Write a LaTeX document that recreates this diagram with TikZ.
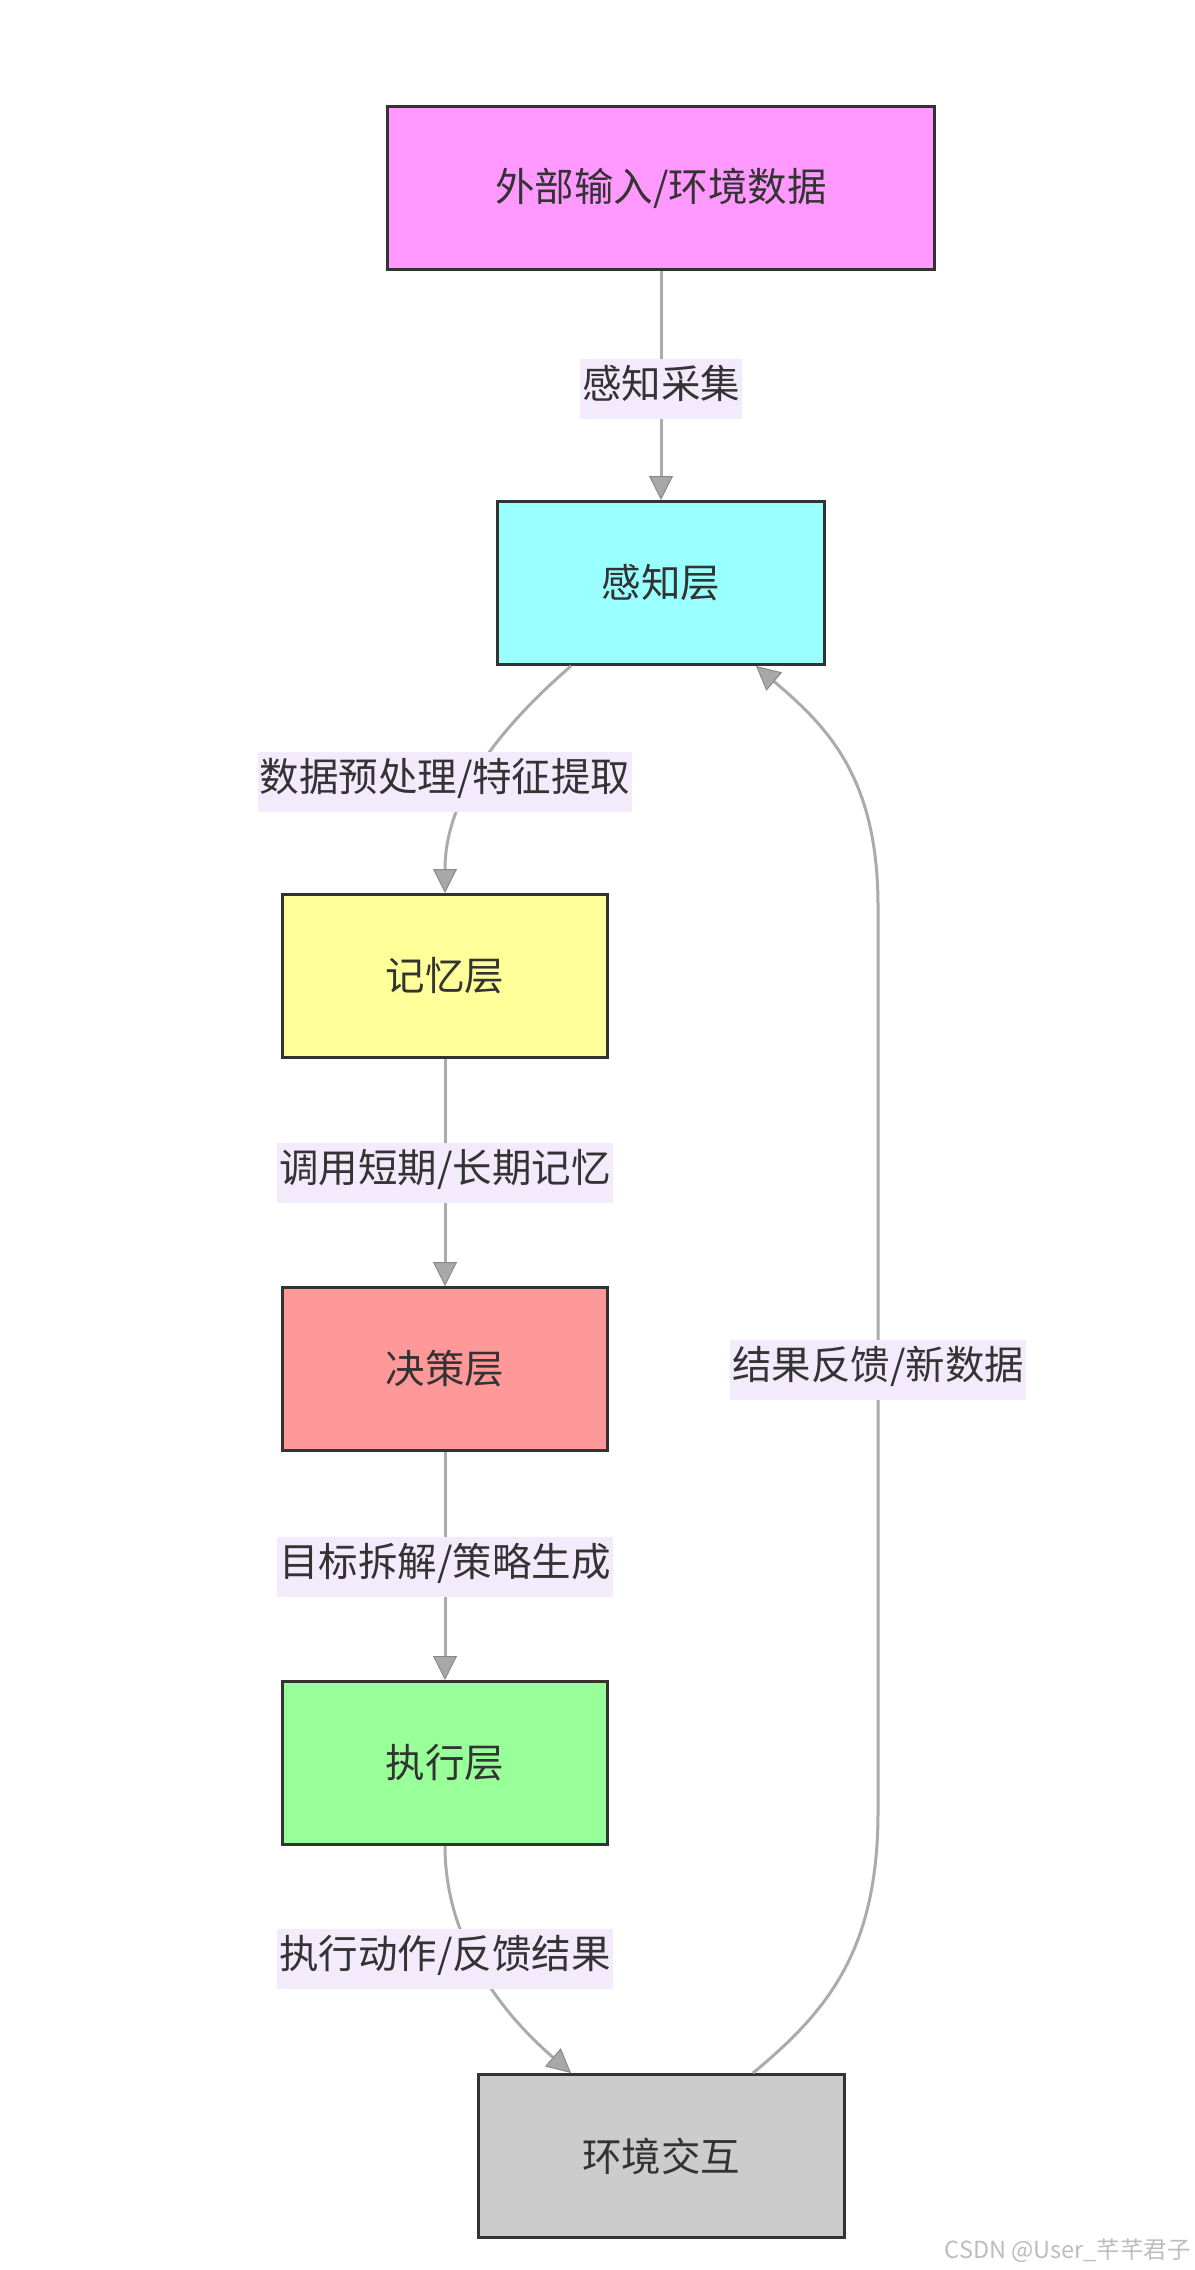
\documentclass[tikz,border=0pt]{standalone}
\usepackage{fontspec}
\setmainfont{Noto Sans CJK SC}
\usetikzlibrary{arrows.meta}
\definecolor{cA}{HTML}{FF99FF}
\definecolor{cB}{HTML}{99FFFF}
\definecolor{cC}{HTML}{FFFF99}
\definecolor{cD}{HTML}{FF9999}
\definecolor{cE}{HTML}{99FF99}
\definecolor{cF}{HTML}{CCCCCC}
\definecolor{boxstroke}{HTML}{333333}
\definecolor{txt}{HTML}{333333}
\definecolor{lblbg}{HTML}{F3EBFB}
\definecolor{edgegray}{HTML}{ABABAB}
\definecolor{tipdraw}{HTML}{8A8A8A}
\definecolor{tipfill}{HTML}{A8A8A8}
\definecolor{wmc}{HTML}{BDBDBD}
\begin{document}
\begin{tikzpicture}[x=1pt,y=-1pt,
  box/.style={draw=boxstroke, line width=3pt, minimum height=163pt, inner sep=0pt,
    font=\fontsize{39.5}{47}\selectfont, text=txt},
  lbl/.style={fill=lblbg, inner xsep=2pt, inner ysep=0pt, text height=29.5pt, text depth=11pt,
    minimum height=59.5pt, font=\fontsize{39.5}{47}\selectfont, text=txt},
  conn/.style={draw=edgegray, line width=3pt,
    -{Triangle[length=24pt,width=24pt,line width=1pt,color=tipdraw,fill=tipfill]}},
]
\useasboundingbox (0,0) rectangle (1194,2270);
% boxes
\node[box, fill=cA, minimum width=547pt] (A) at (661,188) {外部输入/环境数据};
\node[box, fill=cB, minimum width=327pt] (B) at (661,583) {感知层};
\node[box, fill=cC, minimum width=325pt] (C) at (445,976) {记忆层};
\node[box, fill=cD, minimum width=325pt] (D) at (445,1369) {决策层};
\node[box, fill=cE, minimum width=325pt] (E) at (445,1763) {执行层};
\node[box, fill=cF, minimum width=366pt] (F) at (661,2156) {环境交互};
% connectors
\draw[conn] (A.south) -- (B.north);
\draw[conn] ([xshift=-90pt]B.south) .. controls (503,725) and (445,795) .. (C.north);
\draw[conn] (C.south) -- (D.north);
\draw[conn] (D.south) -- (E.north);
\draw[conn] (E.south) .. controls (445,1942) and (503,2014) .. ([xshift=-90pt]F.north);
\draw[conn] ([xshift=92pt]F.north) .. controls (825,2013) and (878,1953) .. (878,1812)
  -- (878,906) .. controls (878,775) and (825,725) .. ([xshift=95pt]B.south);
% labels
\node[lbl] (l1) at (661,389) {感知采集};
\node[lbl] (l2) at (445,782) {数据预处理/特征提取};
\node[lbl] (l3) at (445,1173) {调用短期/长期记忆};
\node[lbl] (l4) at (445,1567) {目标拆解/策略生成};
\node[lbl] (l5) at (445,1959) {执行动作/反馈结果};
\node[lbl] (l6) at (878,1370) {结果反馈/新数据};
% watermark
\node[anchor=east, inner sep=0pt, text=wmc, font=\fontsize{23.5}{27}\selectfont] (wm) at (1191,2251) {CSDN @User\_芊芊君子};
\end{tikzpicture}
\end{document}
